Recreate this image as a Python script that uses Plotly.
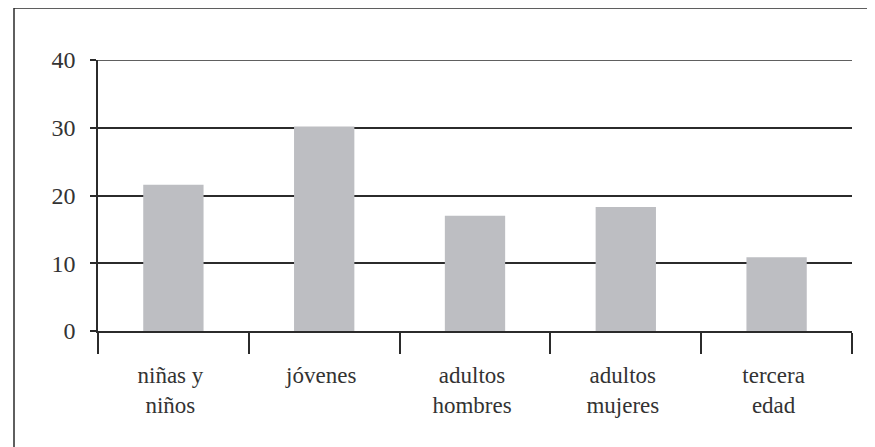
import plotly.graph_objects as go

categories = ["niñas y<br>niños", "jóvenes", "adultos<br>hombres", "adultos<br>mujeres", "tercera<br>edad"]
values = [21.6, 30.2, 17.0, 18.3, 10.9]
y_ticks = [0, 10, 20, 30, 40]

# page body has an 8px margin: figure coords = screen coords - 8
OFF = 8
W, H = 875 - OFF, 447 - OFF
L, T = 98 - OFF, 60 - OFF
R = W - (852 - OFF)
B = H - (331 - OFF)
ink = "#2b2b2b"
font_family = "Liberation Serif, Times New Roman, serif"

fig = go.Figure(go.Bar(
    x=categories, y=values,
    marker=dict(color="#bdbec2", line=dict(width=0)),
))

fig.update_layout(
    width=W, height=H,
    margin=dict(l=L, r=R, t=T, b=B, autoexpand=False),
    paper_bgcolor="white", plot_bgcolor="white",
    bargap=0.6,
    showlegend=False,
    font=dict(family=font_family, size=23, color=ink),
)

fig.update_xaxes(
    type="category",
    tickson="boundaries",
    ticks="outside", ticklen=21, tickwidth=1.5, tickcolor=ink,
    showline=True, linecolor=ink, linewidth=1.5,
    showgrid=False, zeroline=False,
    ticklabelstandoff=23,
    ticklabelshift=-3,
    tickfont=dict(family=font_family, size=23, color="#333333"),
)
fig.update_yaxes(
    range=[0, 40],
    tickvals=y_ticks,
    ticks="outside", ticklen=6, tickwidth=1.5, tickcolor=ink,
    showline=True, linecolor=ink, linewidth=1.5,
    showgrid=True, gridcolor=ink, gridwidth=1.5,
    zeroline=False,
    ticklabelstandoff=10,
    tickfont=dict(family=font_family, size=24, color="#333333"),
)

# top gridline (plotly drops the grid line lying on the plot edge)
fig.add_shape(type="line", xref="paper", yref="y", x0=0, x1=1, y0=y_ticks[-1], y1=y_ticks[-1],
              line=dict(color=ink, width=1.5))

# outer frame (cropped at right and bottom in the reference)
pw = W - L - R
ph = H - T - B
fig.add_shape(
    type="rect", xref="paper", yref="paper",
    x0=(14 - 98) / pw, x1=(875 + 20 - 98) / pw,
    y0=(331 - (447 + 20)) / ph, y1=(331 - 8) / ph,
    line=dict(color=ink, width=1.5), fillcolor="rgba(0,0,0,0)", layer="below",
)

fig.write_html("out.html")
